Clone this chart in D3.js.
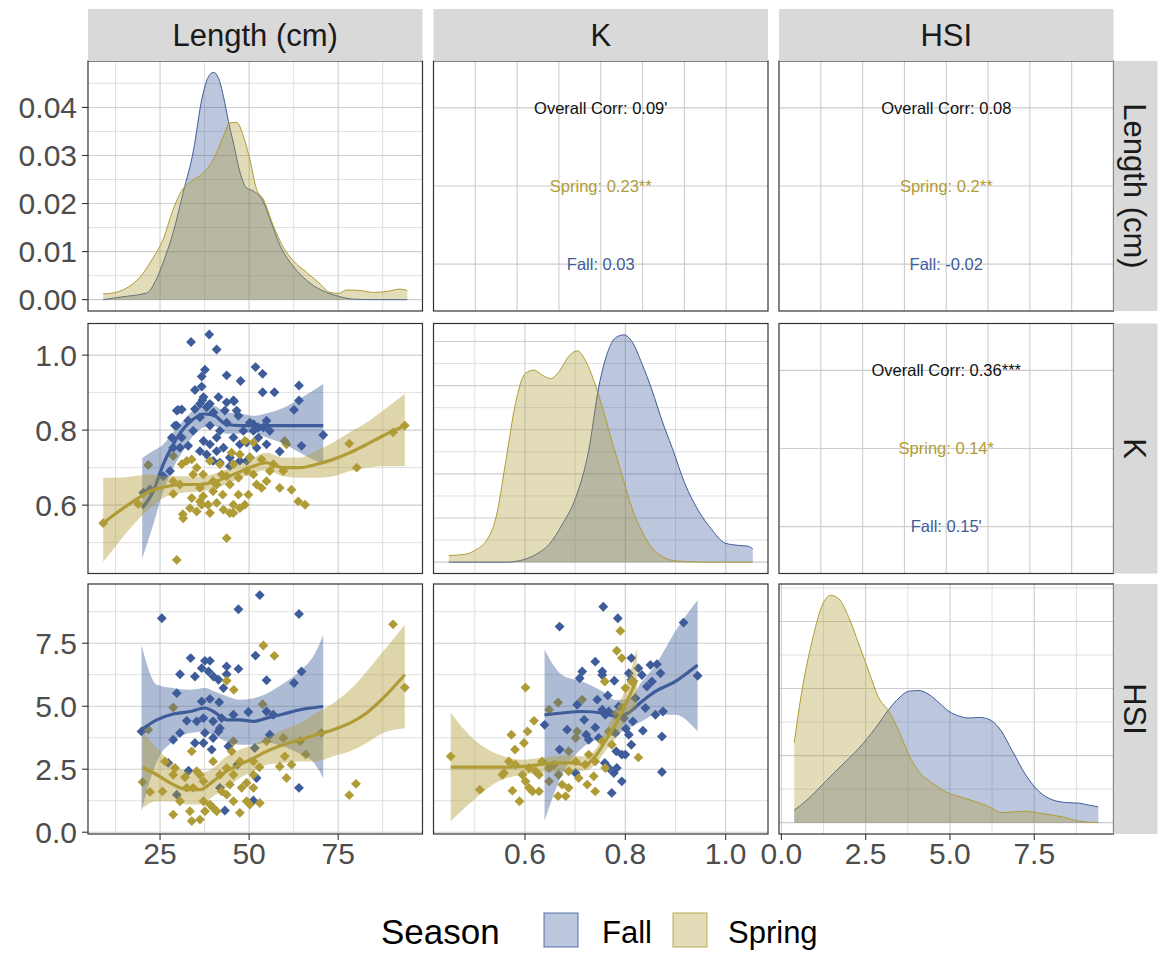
<!DOCTYPE html>
<html>
<head>
<meta charset="utf-8">
<script src="https://cdn.jsdelivr.net/npm/d3@7"></script>
<style>
  body { margin: 0; background: #ffffff; }
  svg { display: block; }
  text { font-family: "Liberation Sans", Arial, sans-serif; }
</style>
</head>
<body>
<svg id="chart" width="1158" height="953"></svg>
<script>
// ---------------- data ----------------
const variables = ["Length (cm)", "K", "HSI"];
const seasons = ["Fall", "Spring"];

// observed range of each variable (min, max)
const lengthRange = [9.05, 94.4];
const kRange = [0.448, 1.054];
const hsiRange = [0.38, 9.40];

// tick values
const lengthTicks = [25, 50, 75];
const lengthMinor = [12.5, 37.5, 62.5, 87.5];
const kTicks = [0.6, 0.8, 1.0];
const kMinor = [0.5, 0.7, 0.9];
const hsiTicks = [0, 2.5, 5, 7.5];
const hsiMinor = [1.25, 3.75, 6.25, 8.75];
const lengthDensTicks = [0, 0.01, 0.02, 0.03, 0.04];
const lengthDensMinor = [0.005, 0.015, 0.025, 0.035, 0.045];
const kDensTicks = [0, 1, 2, 3, 4, 5];
const kDensMinor = [0.5, 1.5, 2.5, 3.5, 4.5];
const hsiDensTicks = [0, 0.1, 0.2, 0.3];
const hsiDensMinor = [0.05, 0.15, 0.25, 0.35];

// kernel density estimates  [value, density]
const lengthDensFall = [[9.05,0],[15.6,0.0007],[21.3,0.0014],[24,0.0043],[25.9,0.0078],[28.7,0.014],[31.5,0.0223],[34.4,0.0311],[36.7,0.0416],[38.6,0.0464],[40,0.0473],[41.4,0.0461],[42.8,0.0423],[44.2,0.0371],[45.6,0.0326],[47.5,0.0264],[49.2,0.0233],[51.2,0.0226],[53.6,0.0209],[55.9,0.0167],[58.7,0.0112],[61.5,0.0078],[64.3,0.0053],[68.1,0.0029],[71.8,0.0015],[75.6,0.0006],[79.3,0.0001],[85,0],[94.4,0]];
const lengthDensSpring = [[9.05,0.0012],[11.1,0.0013],[15.6,0.0024],[19.4,0.0047],[22.8,0.0084],[25.9,0.0126],[28.7,0.0188],[31,0.0226],[33.9,0.0247],[36.7,0.0261],[40,0.0292],[42.8,0.034],[44.6,0.0368],[46.5,0.0369],[48.4,0.034],[50.2,0.0292],[52.1,0.023],[54,0.0209],[56.8,0.0154],[59.6,0.0109],[62.4,0.0081],[66.1,0.0057],[69.9,0.0033],[72.7,0.0015],[75.1,0.0013],[77.4,0.002],[81.2,0.0019],[84.9,0.0015],[88.7,0.0017],[92.4,0.0022],[94.4,0.0019]];
const kDensFall = [[0.448,0],[0.562,0],[0.595,0.05],[0.621,0.17],[0.648,0.4],[0.674,0.85],[0.701,1.46],[0.727,2.53],[0.747,3.97],[0.764,4.73],[0.780,5.08],[0.797,5.15],[0.813,5.0],[0.833,4.5],[0.853,3.9],[0.873,3.21],[0.893,2.6],[0.919,1.77],[0.946,1.16],[0.972,0.74],[0.999,0.43],[1.025,0.38],[1.045,0.36],[1.054,0.3]];
const kDensSpring = [[0.448,0.15],[0.482,0.18],[0.502,0.28],[0.522,0.47],[0.542,1.0],[0.562,2.3],[0.581,3.59],[0.601,4.28],[0.618,4.35],[0.634,4.24],[0.651,4.16],[0.668,4.32],[0.687,4.66],[0.704,4.79],[0.720,4.58],[0.737,4.12],[0.754,3.52],[0.773,2.75],[0.793,1.99],[0.813,1.23],[0.833,0.7],[0.853,0.32],[0.873,0.13],[0.899,0.03],[0.95,0],[1.054,0]];
const hsiDensFall = [[0.38,0.0185],[0.81,0.036],[1.3,0.061],[1.8,0.086],[2.3,0.111],[2.79,0.141],[3.19,0.169],[3.49,0.186],[3.78,0.196],[4.08,0.197],[4.38,0.191],[4.67,0.179],[4.97,0.166],[5.27,0.159],[5.57,0.156],[5.87,0.157],[6.16,0.154],[6.46,0.141],[6.86,0.106],[7.25,0.071],[7.65,0.046],[8.04,0.034],[8.44,0.030],[8.84,0.029],[9.13,0.026],[9.4,0.0235]];
const hsiDensSpring = [[0.38,0.119],[0.59,0.191],[0.91,0.271],[1.21,0.324],[1.46,0.339],[1.70,0.334],[2.0,0.306],[2.3,0.266],[2.59,0.226],[2.89,0.186],[3.19,0.166],[3.49,0.136],[3.78,0.101],[4.08,0.076],[4.48,0.059],[4.87,0.046],[5.47,0.036],[6.06,0.026],[6.56,0.015],[7.15,0.017],[7.74,0.0135],[8.34,0.0085],[8.84,0.002],[9.4,0]];

// observations: Length vs K
const lkFall = [[33.7,1.035],[38.8,1.055],[40.9,1.015],[37.6,0.961],[36.7,0.943],[43.7,0.946],[47.6,0.931],[51.8,0.968],[53.8,0.950],[53.8,0.901],[57.1,0.901],[64.0,0.919],[64.0,0.879],[62.6,0.854],[64.7,0.758],[70.8,0.787],[58.6,0.743],[34.8,0.907],[36.7,0.916],[29.7,0.852],[31.1,0.855],[29.7,0.812],[28.3,0.780],[28.7,0.753],[30.6,0.753],[32.9,0.758],[27.8,0.691],[25.9,0.677],[22.2,0.642],[20.3,0.633],[36.2,0.834],[38.1,0.861],[40.0,0.847],[41.4,0.888],[43.7,0.874],[45.6,0.879],[47.0,0.838],[43.7,0.820],[41.8,0.798],[39.0,0.812],[37.2,0.771],[39.0,0.762],[40.9,0.744],[42.8,0.753],[39.9,0.718],[41.8,0.713],[44.6,0.727],[45.6,0.780],[47.4,0.762],[49.3,0.767],[51.2,0.816],[54.0,0.807],[54.9,0.825],[52.1,0.753],[50.2,0.727],[47.4,0.718],[44.6,0.704],[49.3,0.718],[52.6,0.780],[54.9,0.762],[40.9,0.780],[37.2,0.888],[34.8,0.856],[32.9,0.825],[31.1,0.780],[34.3,0.798],[36.2,0.870],[43.2,0.852],[46.5,0.852],[48.4,0.798],[51.2,0.798],[55.8,0.798],[36.2,0.744],[38.1,0.735],[50.2,0.820],[52.6,0.807],[36.9,0.880],[39.0,0.870],[30.1,0.854],[29.2,0.812],[45.8,0.877]];
const lkSpring = [[29.7,0.454],[43.7,0.512],[9.05,0.552],[18.9,0.603],[28.7,0.630],[21.7,0.707],[31.4,0.576],[31.5,0.565],[33.4,0.592],[35.3,0.583],[36.2,0.610],[37.1,0.624],[38.5,0.601],[39.0,0.579],[40.9,0.606],[42.6,0.628],[42.8,0.588],[44.6,0.579],[45.6,0.601],[47.0,0.628],[45.6,0.579],[48.8,0.601],[49.8,0.628],[52.1,0.655],[53.5,0.646],[54.9,0.664],[58.6,0.646],[61.9,0.641],[63.8,0.610],[65.7,0.601],[59.6,0.691],[60.5,0.762],[60.0,0.771],[55.8,0.691],[51.2,0.767],[48.8,0.771],[47.4,0.735],[45.6,0.709],[43.7,0.677],[42.3,0.682],[40.9,0.655],[39.9,0.664],[37.1,0.682],[34.3,0.682],[32.5,0.718],[33.9,0.722],[28.7,0.731],[31.1,0.709],[35.3,0.700],[78.1,0.764],[80.2,0.700],[90.4,0.794],[93.7,0.812],[28.7,0.664],[39.0,0.718],[45.1,0.740],[50.2,0.727],[49.3,0.691],[53.5,0.722],[56.8,0.709],[33.9,0.619],[36.2,0.646],[39.9,0.637],[44.6,0.655],[47.0,0.673],[51.2,0.682],[47.4,0.592],[36.7,0.601],[41.8,0.709],[30.6,0.655]];

// observations: Length vs HSI
const lhFall = [[25.5,8.49],[53.0,9.41],[47.0,8.85],[64.0,8.66],[33.6,6.91],[37.6,6.8],[39.0,6.8],[36.7,6.51],[34.8,6.18],[30.6,6.27],[38.6,6.38],[40.0,6.18],[41.4,6.05],[43.7,6.58],[47.0,6.48],[43.7,6.27],[51.8,7.01],[54.9,6.03],[62.6,5.92],[64.7,6.38],[29.7,5.52],[42.8,5.72],[36.7,5.19],[39.0,5.29],[41.6,5.16],[45.6,4.66],[49.8,4.77],[54.9,4.79],[19.8,4.0],[30.6,3.94],[28.7,3.67],[32.5,4.42],[37.2,4.53],[39.9,4.4],[41.8,4.13],[39.9,3.74],[37.2,3.54],[39.5,3.28],[34.8,3.54],[27.3,2.75],[44.2,3.41],[55.8,3.87],[51.6,3.34],[52.1,2.15],[64.0,1.76],[51.2,1.26],[43.2,0.86],[41.8,1.76],[29.7,1.49],[46.7,2.68],[33.0,2.44],[42.3,4.53],[41.4,4.0],[56.8,4.66],[37.6,3.94],[35.3,4.4]];
const lhSpring = [[90.4,8.25],[93.7,5.74],[54.0,7.41],[57.1,7.0],[43.7,6.01],[45.7,5.65],[28.7,4.95],[53.8,5.08],[21.7,4.07],[70.3,3.94],[78.1,1.47],[80.0,1.92],[20.1,1.99],[22.2,1.6],[25.7,1.62],[28.7,0.7],[28.7,2.28],[29.2,2.55],[32.0,2.18],[33.9,3.21],[34.3,1.76],[35.3,2.42],[36.2,2.28],[33.4,0.83],[33.9,0.44],[36.2,0.5],[37.6,0.83],[39.9,0.97],[37.2,1.23],[40.9,0.83],[43.7,1.49],[44.6,1.89],[45.6,2.28],[43.7,2.55],[41.8,2.28],[45.6,1.23],[47.4,0.77],[49.3,1.23],[51.2,1.76],[50.2,1.1],[53.0,1.16],[47.9,1.76],[49.3,1.96],[45.6,3.61],[45.1,3.21],[47.4,2.81],[51.2,2.81],[52.9,2.58],[54.9,3.61],[58.6,2.61],[60.0,3.01],[60.5,2.15],[61.9,2.68],[64.3,3.61],[65.9,3.08],[59.6,3.74],[39.9,2.81],[37.2,2.02],[30.6,1.23],[26.4,2.81],[32.5,1.76],[42.3,1.62],[39.0,1.1],[51.2,2.28]];

// observations: K vs HSI
const khFall = [[0.756,8.95],[0.785,8.49],[0.669,8.16],[0.916,8.32],[0.740,6.77],[0.754,6.38],[0.754,6.24],[0.778,6.01],[0.714,6.38],[0.709,6.11],[0.812,6.91],[0.826,6.51],[0.833,6.24],[0.850,6.64],[0.863,6.67],[0.853,5.98],[0.843,5.78],[0.944,6.21],[0.807,6.31],[0.812,6.05],[0.765,5.43],[0.744,5.26],[0.704,5.06],[0.754,4.86],[0.760,4.66],[0.639,4.26],[0.718,4.46],[0.740,4.16],[0.801,4.11],[0.835,4.03],[0.875,4.79],[0.873,3.8],[0.873,2.39],[0.815,4.4],[0.807,3.87],[0.812,3.47],[0.727,3.67],[0.669,3.28],[0.684,4.07],[0.759,2.75],[0.767,2.55],[0.777,2.35],[0.783,2.55],[0.793,2.02],[0.800,3.08],[0.793,3.08],[0.773,1.56],[0.782,3.21],[0.701,2.35],[0.722,3.87],[0.747,3.74],[0.780,3.93],[0.797,4.53],[0.767,4.79],[0.860,4.66],[0.820,5.32],[0.787,4.99],[0.840,4.93],[0.870,6.31]];
const khSpring = [[0.452,3.01],[0.510,1.69],[0.601,5.74],[0.790,7.99],[0.783,7.2],[0.793,6.91],[0.759,5.98],[0.666,5.15],[0.648,4.86],[0.618,4.42],[0.573,3.87],[0.605,4.0],[0.598,3.54],[0.580,3.28],[0.558,2.35],[0.575,1.65],[0.589,1.23],[0.615,1.62],[0.628,1.62],[0.666,1.43],[0.681,1.43],[0.701,3.74],[0.714,5.26],[0.826,2.97],[0.773,3.47],[0.737,2.22],[0.740,1.62],[0.581,2.68],[0.595,2.28],[0.608,2.55],[0.621,2.42],[0.628,2.28],[0.634,2.81],[0.648,2.55],[0.658,2.68],[0.667,2.28],[0.674,1.89],[0.687,2.42],[0.701,2.81],[0.707,2.15],[0.720,2.68],[0.724,1.89],[0.727,3.08],[0.704,4.0],[0.687,3.21],[0.568,2.81],[0.555,2.28],[0.601,2.02],[0.608,1.76],[0.648,2.02],[0.687,1.76],[0.767,4.0],[0.780,4.66],[0.800,5.72],[0.813,5.98],[0.740,2.81],[0.760,2.55],[0.754,3.61],[0.793,4.93]];

// loess fits  [x, fit, lower, upper]
const lkFallFit = [[20.0,0.592,0.458,0.726],[23.1,0.637,0.548,0.745],[25.9,0.709,0.637,0.762],[28.7,0.762,0.700,0.794],[31.5,0.803,0.745,0.825],[34.3,0.829,0.785,0.852],[37.2,0.843,0.807,0.865],[40.0,0.840,0.812,0.865],[43.7,0.815,0.790,0.847],[47.4,0.812,0.790,0.845],[51.2,0.812,0.794,0.838],[55.0,0.812,0.780,0.845],[60.0,0.812,0.762,0.861],[65.0,0.812,0.736,0.888],[70.8,0.812,0.709,0.923]];
const lkSpringFit = [[9.05,0.552,0.449,0.673],[12.8,0.579,0.494,0.673],[17.5,0.610,0.548,0.677],[22.2,0.637,0.592,0.682],[26.9,0.650,0.624,0.677],[31.5,0.655,0.633,0.677],[36.2,0.655,0.637,0.677],[40.9,0.664,0.646,0.686],[45.6,0.682,0.664,0.704],[50.2,0.700,0.682,0.722],[54.9,0.713,0.693,0.740],[59.6,0.700,0.677,0.727],[64.3,0.700,0.673,0.727],[69.0,0.709,0.673,0.745],[73.6,0.722,0.677,0.767],[78.3,0.740,0.691,0.794],[83.0,0.762,0.700,0.820],[87.6,0.785,0.704,0.852],[93.7,0.812,0.704,0.897]];
const lhFallFit = [[19.8,4.07,0.83,7.43],[24.1,4.46,2.81,5.85],[28.7,4.69,3.61,5.72],[33.4,4.79,3.94,5.65],[37.6,4.93,4.0,5.72],[40.0,4.79,3.85,5.6],[43.7,4.46,3.6,5.4],[47.4,4.46,3.47,5.26],[51.2,4.40,3.47,5.32],[54.9,4.53,3.55,5.5],[59.6,4.69,3.4,5.9],[64.3,4.86,3.1,6.4],[68.5,4.95,2.7,7.1],[70.8,4.99,2.15,7.83]];
const lhSpringFit = [[20.1,2.58,0.96,4.0],[24.1,2.28,1.23,3.34],[28.7,1.89,1.23,2.68],[32.5,1.69,1.1,2.42],[36.2,1.69,1.1,2.35],[39.9,2.02,1.43,2.55],[43.7,2.42,1.76,3.01],[47.4,2.68,2.15,3.28],[51.2,2.94,2.42,3.47],[54.9,3.21,2.68,3.74],[59.6,3.47,2.75,4.07],[64.3,3.67,2.81,4.33],[68.9,3.87,2.81,4.73],[73.6,4.07,3.01,5.12],[78.3,4.33,3.21,5.65],[83.0,4.73,3.54,6.38],[87.6,5.32,3.94,7.17],[93.7,6.25,4.13,8.23]];
const khFallFit = [[0.639,4.66,0.45,7.24],[0.674,4.73,2.29,6.24],[0.714,4.79,3.34,5.98],[0.754,4.73,3.74,5.59],[0.780,4.60,3.87,5.25],[0.807,4.75,4.13,5.3],[0.833,5.19,4.4,5.98],[0.860,5.59,4.66,6.64],[0.899,5.98,4.66,7.96],[0.944,6.64,4.0,9.22]];
const khSpringFit = [[0.452,2.58,0.44,4.73],[0.495,2.58,1.23,3.74],[0.548,2.58,2.02,3.08],[0.595,2.61,2.28,2.88],[0.628,2.68,2.35,2.95],[0.661,2.75,2.42,3.01],[0.694,2.75,2.42,3.05],[0.720,2.68,2.45,3.0],[0.740,3.01,2.68,3.28],[0.760,3.61,3.21,4.0],[0.780,4.27,3.7,4.8],[0.800,5.06,4.4,5.7],[0.823,6.05,5.0,7.3]];

// correlation labels for the upper panels (K|Length, HSI|Length, HSI|K)
const corrOverall = ["0.09'", "0.08", "0.36***"];
const corrSpring = ["0.23**", "0.2**", "0.14*"];
const corrFall = ["0.03", "-0.02", "0.15'"];

// ---------------- styling ----------------
const seasonColor = { Fall: "#3E5C9A", Spring: "#B09C36" };
const densAlpha = 0.35, bandAlpha = 0.42;

const colX = [88, 433.5, 779];
const rowY = [61, 323.5, 584];
const panelW = 334.5, panelH = 250;
const stripTop = 9, stripH = 52, stripRightW = 44;

const svg = d3.select("#chart");
svg.append("rect").attr("width", 1158).attr("height", 953).attr("fill", "#ffffff");
const defs = svg.append("defs");

function expand(r) { const d = r[1] - r[0]; return [r[0] - 0.05 * d, r[1] + 0.05 * d]; }

const ranges = [lengthRange, kRange, hsiRange];
const majors = [lengthTicks, kTicks, hsiTicks];
const minors = [lengthMinor, kMinor, hsiMinor];
const fmt = [d3.format("d"), d3.format(".1f"), d3.format(".1f")];

const xScale = ranges.map(r => d3.scaleLinear().domain(expand(r)).range([0, panelW]));
const yScale = ranges.map(r => d3.scaleLinear().domain(expand(r)).range([panelH, 0]));

const densSets = [
  { fall: lengthDensFall, spring: lengthDensSpring, major: lengthDensTicks, minor: lengthDensMinor },
  { fall: kDensFall, spring: kDensSpring, major: kDensTicks, minor: kDensMinor },
  { fall: hsiDensFall, spring: hsiDensSpring, major: hsiDensTicks, minor: hsiDensMinor }
];
densSets.forEach(s => {
  const mx = d3.max(s.fall.concat(s.spring), d => d[1]);
  s.y = d3.scaleLinear().domain(expand([0, mx])).range([panelH, 0]);
});

const scatterSets = {
  "1-0": { fall: lkFall, spring: lkSpring, fallFit: lkFallFit, springFit: lkSpringFit },
  "2-0": { fall: lhFall, spring: lhSpring, fallFit: lhFallFit, springFit: lhSpringFit },
  "2-1": { fall: khFall, spring: khSpring, fallFit: khFallFit, springFit: khSpringFit }
};
const corrIndex = { "0-1": 0, "0-2": 1, "1-2": 2 };

const gridMajor = "#cdcdcd", gridMinor = "#dcdcdc";

function drawGrid(g, xs, xMaj, xMin, ys, yMaj, yMin) {
  const [x0, x1] = xs.domain(), [y0, y1] = ys.domain();
  const inX = v => v >= x0 && v <= x1, inY = v => v >= y0 && v <= y1;
  const gg = g.append("g");
  gg.selectAll(".ymin").data(yMin.filter(inY)).join("line")
    .attr("x1", 0).attr("x2", panelW).attr("y1", d => ys(d)).attr("y2", d => ys(d))
    .attr("stroke", gridMinor).attr("stroke-width", 0.9);
  gg.selectAll(".xmin").data(xMin.filter(inX)).join("line")
    .attr("y1", 0).attr("y2", panelH).attr("x1", d => xs(d)).attr("x2", d => xs(d))
    .attr("stroke", gridMinor).attr("stroke-width", 0.9);
  gg.selectAll(".ymaj").data(yMaj.filter(inY)).join("line")
    .attr("x1", 0).attr("x2", panelW).attr("y1", d => ys(d)).attr("y2", d => ys(d))
    .attr("stroke", gridMajor).attr("stroke-width", 1.1);
  gg.selectAll(".xmaj").data(xMaj.filter(inX)).join("line")
    .attr("y1", 0).attr("y2", panelH).attr("x1", d => xs(d)).attr("x2", d => xs(d))
    .attr("stroke", gridMajor).attr("stroke-width", 1.1);
}

const diamond = d3.symbol().type(d3.symbolDiamond2).size(62);

for (let r = 0; r < 3; r++) {
  for (let c = 0; c < 3; c++) {
    const g = svg.append("g").attr("transform", `translate(${colX[c]},${rowY[r]})`);
    const clipId = `clip-${r}-${c}`;
    defs.append("clipPath").attr("id", clipId)
      .append("rect").attr("width", panelW).attr("height", panelH);
    const body = g.append("g").attr("clip-path", `url(#${clipId})`);
    const xs = xScale[c];

    if (r === c) {
      // diagonal: density of each season
      const s = densSets[r];
      drawGrid(body, xs, majors[c], minors[c], s.y, s.major, s.minor);
      const area = d3.area().x(d => xs(d[0])).y0(s.y(0)).y1(d => s.y(d[1])).curve(d3.curveMonotoneX);
      const line = d3.line().x(d => xs(d[0])).y(d => s.y(d[1])).curve(d3.curveMonotoneX);
      [["Fall", s.fall], ["Spring", s.spring]].forEach(([name, data]) => {
        body.append("path").datum(data).attr("d", area)
          .attr("fill", seasonColor[name]).attr("fill-opacity", densAlpha);
        body.append("path").datum(data).attr("d", line)
          .attr("fill", "none").attr("stroke", seasonColor[name]).attr("stroke-width", 1);
      });
    } else if (r > c) {
      // lower: scatter with loess smooth per season
      const s = scatterSets[`${r}-${c}`];
      const ys = yScale[r];
      drawGrid(body, xs, majors[c], minors[c], ys, majors[r], minors[r]);
      [["Fall", s.fall], ["Spring", s.spring]].forEach(([name, data]) => {
        body.append("g").selectAll("path").data(data).join("path")
          .attr("d", diamond)
          .attr("transform", d => `translate(${xs(d[0])},${ys(d[1])})`)
          .attr("fill", seasonColor[name]);
      });
      const band = d3.area().x(d => xs(d[0])).y0(d => ys(d[2])).y1(d => ys(d[3])).curve(d3.curveMonotoneX);
      const fit = d3.line().x(d => xs(d[0])).y(d => ys(d[1])).curve(d3.curveMonotoneX);
      [["Fall", s.fallFit], ["Spring", s.springFit]].forEach(([name, data]) => {
        body.append("path").datum(data).attr("d", band)
          .attr("fill", seasonColor[name]).attr("fill-opacity", bandAlpha);
        body.append("path").datum(data).attr("d", fit)
          .attr("fill", "none").attr("stroke", seasonColor[name]).attr("stroke-width", 3.2);
      });
    } else {
      // upper: correlation text
      const i = corrIndex[`${r}-${c}`];
      const cx = d3.scaleLinear().domain([0, 8]).range([0, panelW]);
      const cy = d3.scalePoint().domain(["overall", "Spring", "Fall"]).range([0, panelH]).padding(0.6);
      drawGrid(body, cx, [1, 2, 3, 4, 5, 6, 7], [], d3.scaleLinear().domain([0, panelH]).range([0, panelH]),
        cy.domain().map(cy), []);
      const rows = [
        ["overall", "Overall Corr: " + corrOverall[i], "#111111"],
        ["Spring", "Spring: " + corrSpring[i], seasonColor.Spring],
        ["Fall", "Fall: " + corrFall[i], seasonColor.Fall]
      ];
      body.selectAll("text").data(rows).join("text")
        .attr("x", panelW / 2).attr("y", d => cy(d[0]))
        .attr("dy", "0.35em").attr("text-anchor", "middle")
        .attr("font-size", 16.5).attr("fill", d => d[2]).text(d => d[1]);
    }

    g.append("rect").attr("width", panelW).attr("height", panelH)
      .attr("fill", "none").attr("stroke", "#333333").attr("stroke-width", 1.2);
  }
}

// column strips
variables.forEach((v, c) => {
  const g = svg.append("g").attr("transform", `translate(${colX[c]},${stripTop})`);
  g.append("rect").attr("width", panelW).attr("height", stripH).attr("fill", "#d9d9d9");
  g.append("text").attr("x", panelW / 2).attr("y", stripH / 2).attr("dy", "0.36em")
    .attr("text-anchor", "middle").attr("font-size", 31).attr("fill", "#1a1a1a").text(v);
});
// row strips
variables.forEach((v, r) => {
  const x0 = colX[2] + panelW;
  const g = svg.append("g").attr("transform", `translate(${x0},${rowY[r]})`);
  g.append("rect").attr("width", stripRightW).attr("height", panelH).attr("fill", "#d9d9d9");
  g.append("text").attr("transform", `translate(${stripRightW / 2},${panelH / 2}) rotate(90)`)
    .attr("dy", "0.36em").attr("text-anchor", "middle")
    .attr("font-size", 31).attr("fill", "#1a1a1a").text(v);
});

// left axes
const tickColor = "#333333", labelColor = "#4d4d4d", tickFont = 30;
function leftAxis(r, scale, ticks, format) {
  const g = svg.append("g").attr("transform", `translate(${colX[0]},${rowY[r]})`);
  g.selectAll("line").data(ticks).join("line")
    .attr("x1", -6).attr("x2", 0).attr("y1", d => scale(d)).attr("y2", d => scale(d))
    .attr("stroke", tickColor).attr("stroke-width", 1.1);
  g.selectAll("text").data(ticks).join("text")
    .attr("x", -11).attr("y", d => scale(d)).attr("dy", "0.36em")
    .attr("text-anchor", "end").attr("font-size", tickFont).attr("fill", labelColor)
    .text(format);
}
leftAxis(0, densSets[0].y, lengthDensTicks, d3.format(".2f"));
leftAxis(1, yScale[1], kTicks, d3.format(".1f"));
leftAxis(2, yScale[2], hsiTicks, d3.format(".1f"));

// bottom axes
ranges.forEach((rg, c) => {
  const g = svg.append("g").attr("transform", `translate(${colX[c]},${rowY[2] + panelH})`);
  g.selectAll("line").data(majors[c]).join("line")
    .attr("x1", d => xScale[c](d)).attr("x2", d => xScale[c](d)).attr("y1", 0).attr("y2", 6)
    .attr("stroke", tickColor).attr("stroke-width", 1.1);
  g.selectAll("text").data(majors[c]).join("text")
    .attr("x", d => xScale[c](d)).attr("y", 30)
    .attr("text-anchor", "middle").attr("font-size", tickFont).attr("fill", labelColor)
    .text(fmt[c]);
});

// legend
const legend = svg.append("g");
legend.append("text").attr("x", 381).attr("y", 944).attr("font-size", 35).attr("fill", "#000000").text("Season");
const keyX = [544, 673], labX = [602, 728];
seasons.forEach((s, i) => {
  legend.append("rect").attr("x", keyX[i]).attr("y", 913).attr("width", 34).attr("height", 34)
    .attr("fill", seasonColor[s]).attr("fill-opacity", densAlpha)
    .attr("stroke", seasonColor[s]).attr("stroke-opacity", 0.7).attr("stroke-width", 1.2);
  legend.append("text").attr("x", labX[i]).attr("y", 943).attr("font-size", 31).attr("fill", "#000000").text(s);
});
</script>
</body>
</html>
